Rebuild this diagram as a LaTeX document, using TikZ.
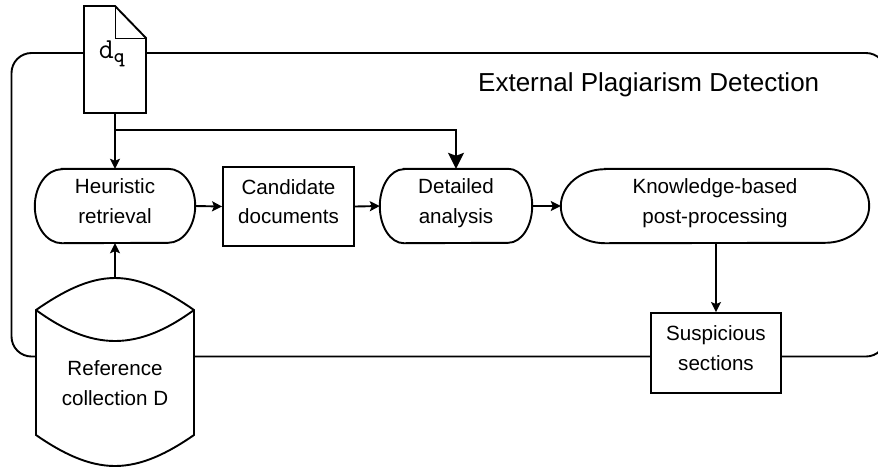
\documentclass[tikz,border=0pt]{standalone}
\usepackage{fontspec}
\setmainfont{Liberation Sans}
\usetikzlibrary{arrows.meta}
\newcommand{\pilloutline}[2]{%
  \draw[ln] ([xshift=#2]#1.north west) -- ([xshift=-#2]#1.north east)
    arc[start angle=90,end angle=-90,x radius=#2,y radius=37pt]
    -- ([xshift=#2]#1.south west)
    arc[start angle=270,end angle=90,x radius=#2,y radius=37pt] -- cycle;}
\tikzset{
  x=1pt,y=-1pt,
  ln/.style={line width=1.9pt,draw=black},
  arr/.style={ln,-{Stealth[length=10pt,width=10pt,inset=2pt]}},
  bigarr/.style={ln,-{Stealth[length=16pt,width=16pt,inset=3pt]}},
  lbl/.style={font=\fontsize{20.6}{29.5}\selectfont,align=center,inner sep=0pt,text height=44.5pt,text depth=10pt},
  pill/.style={minimum height=74pt,inner sep=0pt,anchor=center},
  boxn/.style={ln,fill=white,inner sep=0pt,anchor=center},
}
\begin{document}
\begin{tikzpicture}
\useasboundingbox (0,0) rectangle (878,467);
\begin{scope}
\clip (0,0) rectangle (878,467);
\draw[ln,rounded corners=20pt] (11.5,53) rectangle (886,356.5);
\end{scope}
% document
\path[ln,fill=white] (84,6) -- (115,6) -- (146,38) -- (146,113) -- (84,113) -- cycle;
\draw[line width=0.9pt] (115,6) -- (115,38) -- (146,38);
\coordinate (docb) at (115,113);
\coordinate (branch) at (115,130);
\node[inner sep=0pt,font=\fontsize{29}{31}\selectfont\ttfamily] (dq) at (112,54) {d\textsubscript{\bfseries q}};
% nodes
\node[pill,minimum width=160pt,lbl] (heur) at (115,206) {Heuristic\\retrieval};
\pilloutline{heur}{27pt}
\node[boxn,minimum width=131pt,minimum height=79pt,lbl] (cand) at (288.5,206.5) {Candidate\\documents};
\node[pill,minimum width=152pt,lbl] (det) at (456,206) {Detailed\\analysis};
\pilloutline{det}{24pt}
\node[pill,minimum width=308pt,lbl] (know) at (715,206) {Knowledge-based\\post-processing};
\pilloutline{know}{44pt}
\node[boxn,minimum width=130pt,minimum height=80pt,lbl] (susp) at (716,353) {Suspicious\\sections};
% cylinder
\coordinate (cyl) at (115,278);
\path[ln,fill=white] (36,310) .. controls (62,292) and (88,278) .. (115,278) .. controls (142,278) and (168,292) .. (194,310)
  -- (194,435) .. controls (168,453) and (142,466) .. (115,466) .. controls (88,466) and (62,453) .. (36,435) -- cycle;
\draw[ln] (36,310) .. controls (62,329) and (88,341) .. (115,341) .. controls (142,341) and (168,329) .. (194,310);
\node[lbl] (ref) at (115,388) {Reference\\collection D};
\node[inner sep=0pt,font=\fontsize{26}{30}\selectfont,anchor=west] (title) at (478,85) {External Plagiarism Detection};
% connectors
\draw[arr] (docb) -- (heur.north);
\draw[bigarr] (branch) -| (det.north);
\draw[arr] (cyl) -- (heur.south);
\draw[arr] (heur.east) -- (cand.west);
\draw[arr] (cand.east) -- (det.west);
\draw[arr] (det.east) -- (know.west);
\draw[arr] (know.south -| susp.north) -- (susp.north);
\end{tikzpicture}
\end{document}
